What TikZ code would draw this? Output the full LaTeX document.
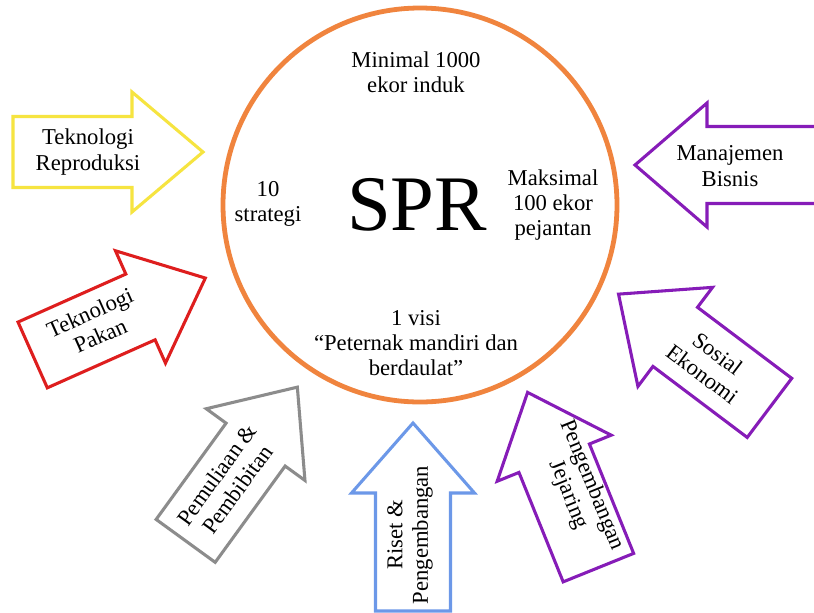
\documentclass[tikz,border=0pt]{standalone}
\usepackage{fontspec}
\setmainfont{Liberation Serif}
\definecolor{circOrange}{RGB}{240,132,62}
\definecolor{arYellow}{RGB}{246,228,64}
\definecolor{arRed}{RGB}{222,30,30}
\definecolor{arGray}{RGB}{140,140,140}
\definecolor{arBlue}{RGB}{108,152,232}
\definecolor{arPurple}{RGB}{134,28,184}
% #1 cx, #2 cy, #3 angle, #4 length, #5 shaft width, #6 head width, #7 head length, #8 style
\newcommand\blockarrow[8]{%
  \begin{scope}[shift={(#1,#2)},rotate=#3]
    \draw[#8] ({-#4/2},{-#5/2}) -- ({#4/2-#7},{-#5/2}) -- ({#4/2-#7},{-#6/2})
      -- ({#4/2},0) -- ({#4/2-#7},{#6/2}) -- ({#4/2-#7},{#5/2})
      -- ({-#4/2},{#5/2}) -- cycle;
  \end{scope}}
\begin{document}
\begin{tikzpicture}[x=0.75pt,y=-0.75pt]
\tikzset{
  arrowline/.style={line width=2.3pt, line join=miter, fill=white},
  lbl/.style={align=center, font=\fontsize{17}{19}\selectfont, inner sep=0pt},
}
\useasboundingbox (0,0) rectangle (814,612);
\clip (0,0) rectangle (814,612);
\fill[white] (0,0) rectangle (814,612);

% circle
\node[draw=circOrange, line width=3.6pt, circle, minimum size=394*0.75pt, inner sep=0pt] (spr) at (420,205) {};
\node[font=\fontsize{59}{60}\selectfont, inner sep=0pt] (sprtext) at (417,205) {SPR};
\node[lbl] (minimal) at (416,72) {Minimal 1000\\ekor induk};
\node[lbl] (strategi) at (268,204) {10\\strategi};
\node[lbl] (maksimal) at (553,205) {Maksimal\\100 ekor\\pejantan};
\node[lbl] (visi) at (416,343) {1 visi\\``Peternak mandiri dan\\berdaulat''};

% arrows
\blockarrow{108}{152}{0}{190}{71}{120}{71}{arrowline, draw=arYellow}
\node[lbl] (repro) at (88,152) {Teknologi\\Reproduksi};

\blockarrow{119}{316.5}{24}{189}{72}{123}{71}{arrowline, draw=arRed}
\node[lbl, rotate=24] (pakan) at (95,324) {Teknologi\\Pakan};

\blockarrow{241.5}{464}{54}{190}{73}{122}{71}{arrowline, draw=arGray}
\node[lbl, rotate=54] (pemuliaan) at (227,482) {Pemuliaan \&\\Pembibitan};

\blockarrow{413}{517}{90}{188}{75}{123}{70}{arrowline, draw=arBlue}
\node[lbl, rotate=90] (riset) at (410,535) {Riset \&\\Pengembangan};

\blockarrow{563}{480}{112}{189}{76}{123}{71}{arrowline, draw=arPurple}
\node[lbl, rotate=-68] (jejaring) at (580,490) {Pengembangan\\Jejaring};

\blockarrow{694}{351}{143}{189}{74}{124}{71}{arrowline, draw=arPurple}
\node[lbl, rotate=-37] (sosial) at (710,364) {Sosial\\Ekonomi};

\blockarrow{729}{165}{180}{188}{77}{124}{72}{arrowline, draw=arPurple}
\node[lbl] (bisnis) at (730,166) {Manajemen\\Bisnis};
\end{tikzpicture}
\end{document}
